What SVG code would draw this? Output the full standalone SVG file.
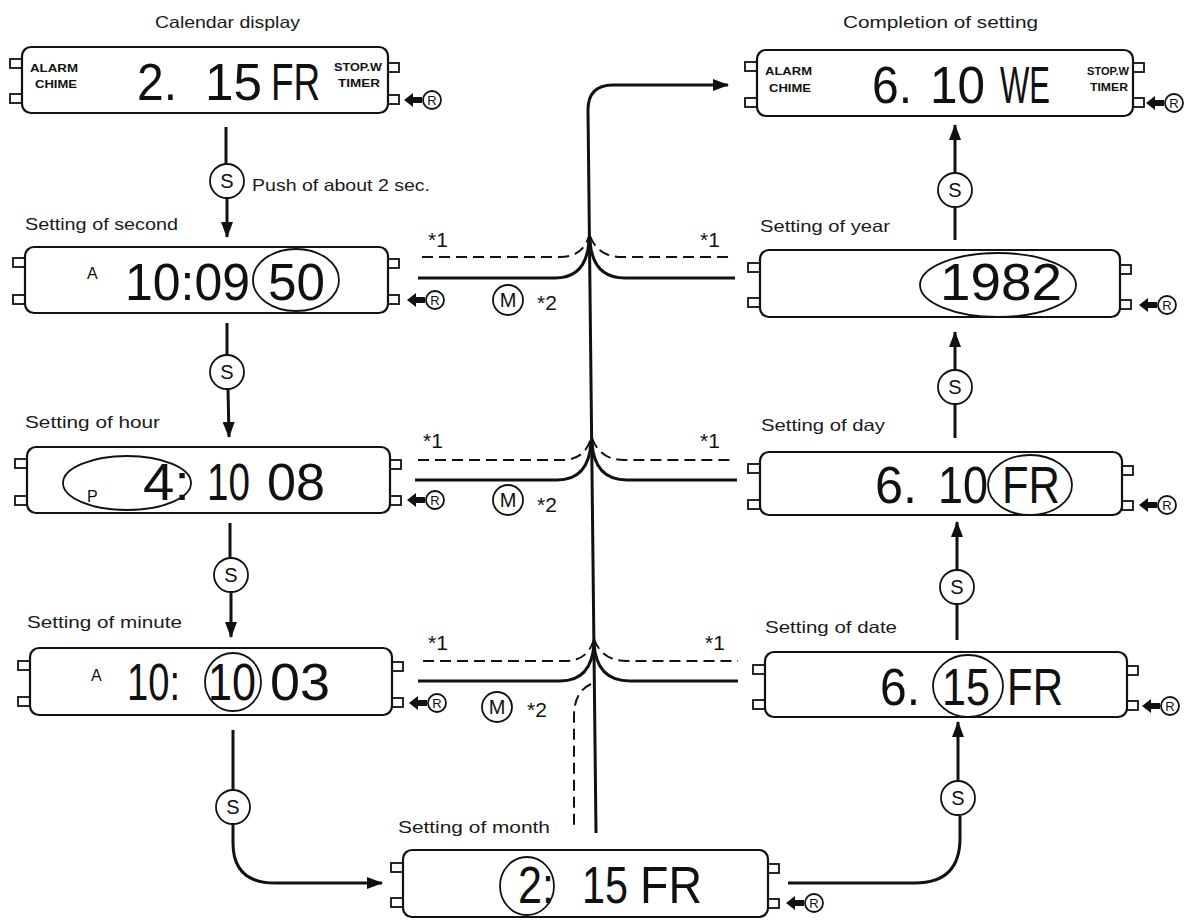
<svg xmlns="http://www.w3.org/2000/svg" width="1193" height="920" viewBox="0 0 1193 920">
<defs>
<style>
.bg{fill:#fff}
.box{fill:#fff;stroke:#111;stroke-width:2.2}
.tab{fill:#fff;stroke:#111;stroke-width:1.8}
.lbl{font-family:"Liberation Sans",Arial,sans-serif;font-size:16.5px;fill:#1a1a1a}
.dig{font-family:"Liberation Sans",Arial,sans-serif;font-size:52px;fill:#111}
.sm{font-family:"Liberation Sans",Arial,sans-serif;font-size:16px;fill:#111}
.tiny{font-family:"Liberation Sans",Arial,sans-serif;font-size:11px;font-weight:bold;fill:#111}
.ring{fill:none;stroke:#111;stroke-width:1.8}
.ln{fill:none;stroke:#111;stroke-width:3}
.dash{fill:none;stroke:#111;stroke-width:2;stroke-dasharray:11 6}
.cir{fill:#fff;stroke:#111;stroke-width:1.8}
.ct{font-family:"Liberation Sans",Arial,sans-serif;font-size:20px;fill:#111;text-anchor:middle}
.note{font-family:"Liberation Sans",Arial,sans-serif;font-size:21px;fill:#111}
.rt{font-family:"Liberation Sans",Arial,sans-serif;font-size:13px;fill:#111;text-anchor:middle}
</style>
<marker id="ah" markerWidth="16" markerHeight="12" refX="15" refY="6" orient="auto" markerUnits="userSpaceOnUse">
<path d="M0,0 L16,6 L0,12 Z" fill="#111"/>
</marker>
<g id="rbtn">
<path d="M0,0 L9,-7 L9,-3 L18,-3 L18,3 L9,3 L9,7 Z" fill="#111"/>
<circle cx="28" cy="0" r="9" class="cir"/>
<text x="28" y="4.7" class="rt">R</text>
</g>
</defs>
<rect class="bg" x="0" y="0" width="1193" height="920"/>

<g id="connectors">
<!-- left column -->
<line class="ln" x1="226" y1="127" x2="226" y2="164"/>
<line class="ln" x1="227" y1="198" x2="227" y2="237" marker-end="url(#ah)"/>
<line class="ln" x1="227" y1="323" x2="227" y2="355"/>
<line class="ln" x1="228" y1="389" x2="229" y2="437" marker-end="url(#ah)"/>
<line class="ln" x1="230" y1="523" x2="230" y2="557"/>
<line class="ln" x1="231" y1="593" x2="231" y2="637" marker-end="url(#ah)"/>
<line class="ln" x1="233" y1="730" x2="233" y2="789"/>
<path class="ln" d="M233,825 V843 Q233,883 275,883 H382" marker-end="url(#ah)"/>
<!-- right column -->
<path class="ln" d="M788,883 H915 Q960,883 960,838 V816"/>
<line class="ln" x1="958" y1="780" x2="958" y2="722" marker-end="url(#ah)"/>
<line class="ln" x1="957" y1="640" x2="957" y2="605"/>
<line class="ln" x1="957" y1="569" x2="957" y2="522" marker-end="url(#ah)"/>
<line class="ln" x1="955" y1="438" x2="955" y2="405"/>
<line class="ln" x1="955" y1="369" x2="955" y2="332" marker-end="url(#ah)"/>
<line class="ln" x1="955" y1="240" x2="955" y2="208"/>
<line class="ln" x1="955" y1="172" x2="955" y2="125" marker-end="url(#ah)"/>
<!-- central trunk -->
<path class="ln" d="M596,833 L588,110 Q588,85 613,85 H728" marker-end="url(#ah)"/>
<!-- row 1 -->
<path class="ln" d="M418,278 H555 Q587,278 589,240"/>
<path class="ln" d="M590,240 Q592,278 625,278 H735"/>
<path class="dash" d="M422,257 H560 Q583,257 589,236"/>
<path class="dash" d="M590,236 Q598,257 622,257 H733"/>
<!-- row 2 -->
<path class="ln" d="M415,480 H557 Q589,480 591,442"/>
<path class="ln" d="M592,442 Q594,480 627,480 H737"/>
<path class="dash" d="M418,460 H562 Q585,460 591,438"/>
<path class="dash" d="M592,438 Q600,460 624,460 H735"/>
<!-- row 3 -->
<path class="ln" d="M418,681 H560 Q592,681 594,643"/>
<path class="ln" d="M594,643 Q596,681 630,681 H738"/>
<path class="dash" d="M423,661 H565 Q588,661 594,639"/>
<path class="dash" d="M594,639 Q602,661 627,661 H738"/>
<path class="dash" d="M591,684 Q574,692 574,716 V830"/>
<!-- S buttons -->
<g id="s-buttons">
<circle class="cir" cx="227" cy="181" r="17"/><text class="ct" x="227" y="188">S</text>
<circle class="cir" cx="227" cy="372" r="17"/><text class="ct" x="227" y="379">S</text>
<circle class="cir" cx="231" cy="575" r="17"/><text class="ct" x="231" y="582">S</text>
<circle class="cir" cx="233" cy="807" r="17"/><text class="ct" x="233" y="814">S</text>
<circle class="cir" cx="958" cy="798" r="17"/><text class="ct" x="958" y="805">S</text>
<circle class="cir" cx="957" cy="587" r="17"/><text class="ct" x="957" y="594">S</text>
<circle class="cir" cx="955" cy="387" r="17"/><text class="ct" x="955" y="394">S</text>
<circle class="cir" cx="955" cy="190" r="17"/><text class="ct" x="955" y="197">S</text>
</g>
<text class="lbl" x="252" y="191" textLength="178" lengthAdjust="spacingAndGlyphs">Push of about 2 sec.</text>
<!-- M buttons and notes -->
<circle class="cir" cx="508" cy="300" r="15"/><text class="ct" x="508" y="307">M</text>
<circle class="cir" cx="508" cy="500" r="15"/><text class="ct" x="508" y="507">M</text>
<circle class="cir" cx="497" cy="707" r="15"/><text class="ct" x="497" y="714">M</text>
<text class="note" x="428" y="247">*1</text><text class="note" x="700" y="247">*1</text><text class="note" x="537" y="310">*2</text>
<text class="note" x="423" y="448">*1</text><text class="note" x="700" y="448">*1</text><text class="note" x="537" y="512">*2</text>
<text class="note" x="428" y="650">*1</text><text class="note" x="705" y="650">*1</text><text class="note" x="527" y="717">*2</text>
</g>

<g id="calendar">
<text class="lbl" x="155" y="28" textLength="145" lengthAdjust="spacingAndGlyphs">Calendar display</text>
<rect class="tab" x="10" y="59" width="12" height="9"/><rect class="tab" x="10" y="94" width="12" height="9"/>
<rect class="tab" x="388" y="63" width="11" height="9"/><rect class="tab" x="388" y="95" width="11" height="9"/>
<rect class="box" x="22" y="47" width="366" height="66" rx="9"/>
<text class="tiny" x="30" y="72" textLength="48" lengthAdjust="spacingAndGlyphs">ALARM</text>
<text class="tiny" x="35" y="88" textLength="42" lengthAdjust="spacingAndGlyphs">CHIME</text>
<text class="tiny" x="334" y="71" textLength="48" lengthAdjust="spacingAndGlyphs">STOP.W</text>
<text class="tiny" x="338" y="87" textLength="42" lengthAdjust="spacingAndGlyphs">TIMER</text>
<text class="dig" x="137" y="100" textLength="40" lengthAdjust="spacingAndGlyphs">2.</text>
<text class="dig" x="205" y="100" textLength="57" lengthAdjust="spacingAndGlyphs">15</text>
<text class="dig" transform="translate(271,100) scale(0.71,1)" x="0" y="0">FR</text>
<use href="#rbtn" x="404" y="100"/>
</g>

<g id="second">
<text class="lbl" x="25" y="230" textLength="153" lengthAdjust="spacingAndGlyphs">Setting of second</text>
<rect class="tab" x="13" y="258" width="12" height="9"/><rect class="tab" x="13" y="295" width="12" height="9"/>
<rect class="tab" x="388" y="259" width="11" height="9"/><rect class="tab" x="388" y="295" width="11" height="9"/>
<rect class="box" x="25" y="247" width="363" height="66" rx="9"/>
<text class="sm" x="87" y="279">A</text>
<text class="dig" x="125" y="300" textLength="125" lengthAdjust="spacingAndGlyphs">10:09</text>
<text class="dig" x="268" y="300" textLength="57" lengthAdjust="spacingAndGlyphs">50</text>
<ellipse class="ring" cx="296" cy="280" rx="43" ry="31"/>
<use href="#rbtn" x="407" y="300"/>
</g>

<g id="hour">
<text class="lbl" x="25" y="428" textLength="135" lengthAdjust="spacingAndGlyphs">Setting of hour</text>
<rect class="tab" x="15" y="459" width="12" height="9"/><rect class="tab" x="15" y="496" width="12" height="9"/>
<rect class="tab" x="390" y="460" width="11" height="9"/><rect class="tab" x="390" y="496" width="11" height="9"/>
<rect class="box" x="27" y="447" width="363" height="66" rx="9"/>
<text class="sm" x="87" y="502">P</text>
<text class="dig" x="143" y="500" textLength="47" lengthAdjust="spacingAndGlyphs">4:</text>
<text class="dig" x="207" y="500" textLength="43" lengthAdjust="spacingAndGlyphs">10</text>
<text class="dig" x="267" y="500" textLength="58" lengthAdjust="spacingAndGlyphs">08</text>
<ellipse class="ring" cx="127" cy="483" rx="64" ry="27"/>
<use href="#rbtn" x="407" y="500"/>
</g>

<g id="minute">
<text class="lbl" x="27" y="628" textLength="155" lengthAdjust="spacingAndGlyphs">Setting of minute</text>
<rect class="tab" x="18" y="661" width="12" height="9"/><rect class="tab" x="18" y="697" width="12" height="9"/>
<rect class="tab" x="392" y="662" width="11" height="9"/><rect class="tab" x="392" y="698" width="11" height="9"/>
<rect class="box" x="30" y="648" width="362" height="67" rx="9"/>
<text class="sm" x="91" y="681">A</text>
<text class="dig" x="127" y="700" textLength="53" lengthAdjust="spacingAndGlyphs">10:</text>
<text class="dig" x="208" y="700" textLength="48" lengthAdjust="spacingAndGlyphs">10</text>
<text class="dig" x="270" y="700" textLength="60" lengthAdjust="spacingAndGlyphs">03</text>
<ellipse class="ring" cx="233" cy="682" rx="28" ry="29"/>
<use href="#rbtn" x="409" y="703"/>
</g>

<g id="month">
<text class="lbl" x="398" y="833" textLength="152" lengthAdjust="spacingAndGlyphs">Setting of month</text>
<rect class="tab" x="391" y="863" width="12" height="9"/><rect class="tab" x="391" y="898" width="12" height="9"/>
<rect class="tab" x="768" y="864" width="11" height="9"/><rect class="tab" x="768" y="899" width="11" height="9"/>
<rect class="box" x="403" y="850" width="365" height="67" rx="9"/>
<text class="dig" x="518" y="903" textLength="36" lengthAdjust="spacingAndGlyphs">2:</text>
<text class="dig" x="582" y="903" textLength="46" lengthAdjust="spacingAndGlyphs">15</text>
<text class="dig" x="640" y="903" textLength="62" lengthAdjust="spacingAndGlyphs">FR</text>
<ellipse class="ring" cx="527" cy="886" rx="27" ry="29"/>
<use href="#rbtn" x="786" y="903"/>
</g>

<g id="date">
<text class="lbl" x="765" y="633" textLength="132" lengthAdjust="spacingAndGlyphs">Setting of date</text>
<rect class="tab" x="753" y="665" width="12" height="9"/><rect class="tab" x="753" y="700" width="12" height="9"/>
<rect class="tab" x="1127" y="666" width="11" height="9"/><rect class="tab" x="1127" y="701" width="11" height="9"/>
<rect class="box" x="765" y="652" width="362" height="65" rx="9"/>
<text class="dig" x="880" y="705" textLength="40" lengthAdjust="spacingAndGlyphs">6.</text>
<text class="dig" x="942" y="705" textLength="48" lengthAdjust="spacingAndGlyphs">15</text>
<text class="dig" x="1007" y="705" textLength="56" lengthAdjust="spacingAndGlyphs">FR</text>
<ellipse class="ring" cx="968" cy="686" rx="35" ry="31"/>
<use href="#rbtn" x="1142" y="706"/>
</g>

<g id="day">
<text class="lbl" x="761" y="431" textLength="124" lengthAdjust="spacingAndGlyphs">Setting of day</text>
<rect class="tab" x="748" y="464" width="12" height="9"/><rect class="tab" x="748" y="500" width="12" height="9"/>
<rect class="tab" x="1122" y="466" width="11" height="9"/><rect class="tab" x="1122" y="501" width="11" height="9"/>
<rect class="box" x="760" y="452" width="362" height="63" rx="9"/>
<text class="dig" x="875" y="503" textLength="42" lengthAdjust="spacingAndGlyphs">6.</text>
<text class="dig" x="938" y="503" textLength="50" lengthAdjust="spacingAndGlyphs">10</text>
<text class="dig" x="1002" y="503" textLength="58" lengthAdjust="spacingAndGlyphs">FR</text>
<ellipse class="ring" cx="1030" cy="485" rx="42" ry="30"/>
<use href="#rbtn" x="1139" y="505"/>
</g>

<g id="year">
<text class="lbl" x="760" y="232" textLength="130" lengthAdjust="spacingAndGlyphs">Setting of year</text>
<rect class="tab" x="748" y="263" width="12" height="9"/><rect class="tab" x="748" y="298" width="12" height="9"/>
<rect class="tab" x="1120" y="265" width="11" height="9"/><rect class="tab" x="1120" y="300" width="11" height="9"/>
<rect class="box" x="760" y="250" width="360" height="67" rx="9"/>
<text class="dig" x="940" y="300" textLength="122" lengthAdjust="spacingAndGlyphs">1982</text>
<ellipse class="ring" cx="998" cy="285" rx="78" ry="32"/>
<use href="#rbtn" x="1139" y="305"/>
</g>

<g id="completion">
<text class="lbl" x="843" y="28" textLength="195" lengthAdjust="spacingAndGlyphs">Completion of setting</text>
<rect class="tab" x="745" y="62" width="12" height="9"/><rect class="tab" x="745" y="98" width="12" height="9"/>
<rect class="tab" x="1133" y="63" width="11" height="9"/><rect class="tab" x="1133" y="98" width="11" height="9"/>
<rect class="box" x="757" y="50" width="376" height="66" rx="9"/>
<text class="tiny" x="765" y="75" textLength="47" lengthAdjust="spacingAndGlyphs">ALARM</text>
<text class="tiny" x="769" y="92" textLength="42" lengthAdjust="spacingAndGlyphs">CHIME</text>
<text class="tiny" x="1087" y="75" textLength="42" lengthAdjust="spacingAndGlyphs">STOP.W</text>
<text class="tiny" x="1090" y="91" textLength="38" lengthAdjust="spacingAndGlyphs">TIMER</text>
<text class="dig" x="872" y="103" textLength="40" lengthAdjust="spacingAndGlyphs">6.</text>
<text class="dig" x="930" y="103" textLength="55" lengthAdjust="spacingAndGlyphs">10</text>
<text class="dig" x="1000" y="103" textLength="50" lengthAdjust="spacingAndGlyphs">WE</text>
<use href="#rbtn" x="1146" y="103"/>
</g>
</svg>
